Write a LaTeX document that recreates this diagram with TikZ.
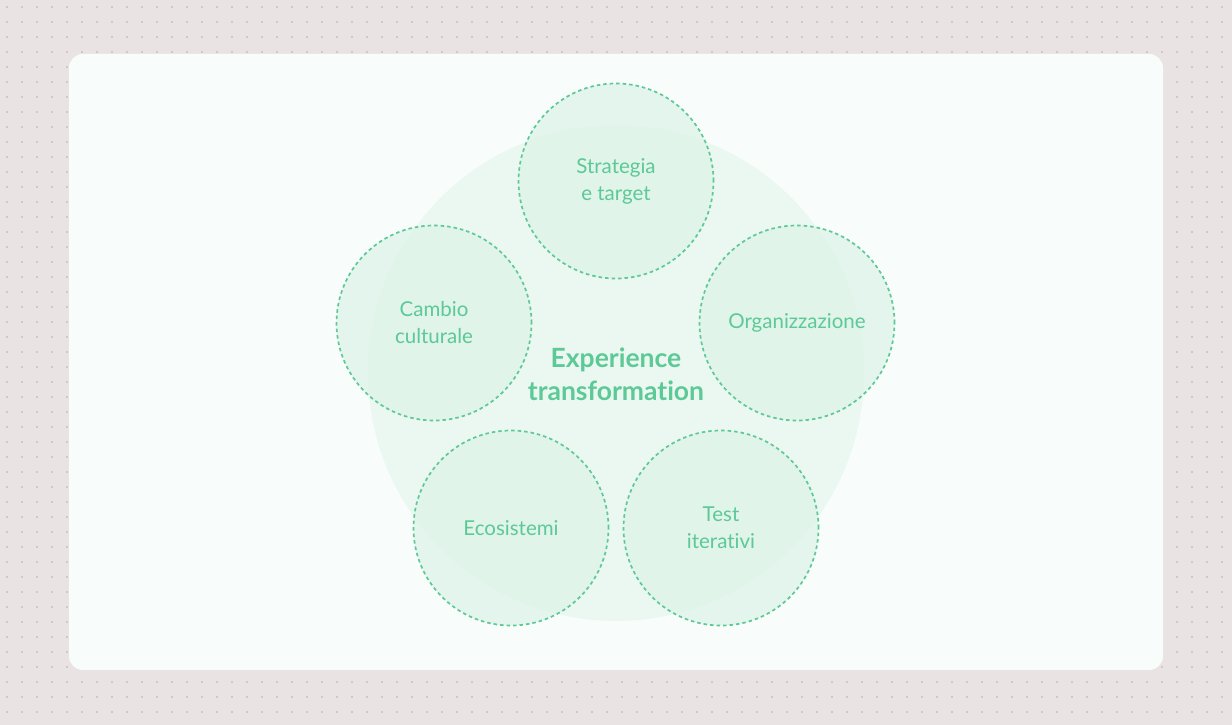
\documentclass[tikz,border=0pt]{standalone}
\usepackage{fontspec}
\setmainfont{Lato}[Ligatures=NoCommon]
\definecolor{bgGray}{HTML}{E9E3E3}
\definecolor{dotGray}{HTML}{B5ADAD}
\definecolor{cardWhite}{HTML}{F8FDFB}
\definecolor{mint}{HTML}{5CC996}
\definecolor{mintFill}{HTML}{DDF3E7}
\tikzstyle{topicCircle}=[shape = circle, minimum size = 195pt, inner sep = 0pt, draw = mint, line width = 1.7pt, dash pattern = on 3.5pt off 3pt, fill = mintFill, fill opacity = 0.75, text opacity = 1, text = mint, font = \fontsize{20.5}{27}\selectfont, align = center]
\tikzstyle{coreCircle}=[shape = circle, minimum size = 496pt, inner sep = 0pt, fill = mintFill, fill opacity = 0.45]

\begin{document}
\begin{tikzpicture}[x = 1pt, y = -1pt]
\tikzstyle{titleStyle}=[text = mint, font = \bfseries\fontsize{26.5}{33}\selectfont, align = center]
\useasboundingbox (0,0) rectangle (1232,725);
\fill[bgGray] (0,0) rectangle (1232,725);
\foreach \i in {0,...,81}
  \foreach \j in {0,...,48}
    \fill[dotGray] (7+15*\i, 7+15*\j) circle (0.9pt);
\fill[cardWhite, rounded corners = 14pt] (69,54) rectangle (1163,670);
\node[coreCircle] (core) at (616,373) {};
\node[topicCircle] (strategia) at (616,181) {Strategia\\ e target};
\node[topicCircle] (cambio) at (434,323) {Cambio\\ culturale};
\node[topicCircle] (organizzazione) at (797,323) {Organizzazione};
\node[topicCircle] (ecosistemi) at (511,528) {Ecosistemi};
\node[topicCircle] (test) at (721,528) {Test\\ iterativi};
\node[titleStyle] (title) at (616,374) {Experience\\ transformation};
\end{tikzpicture}
\end{document}
